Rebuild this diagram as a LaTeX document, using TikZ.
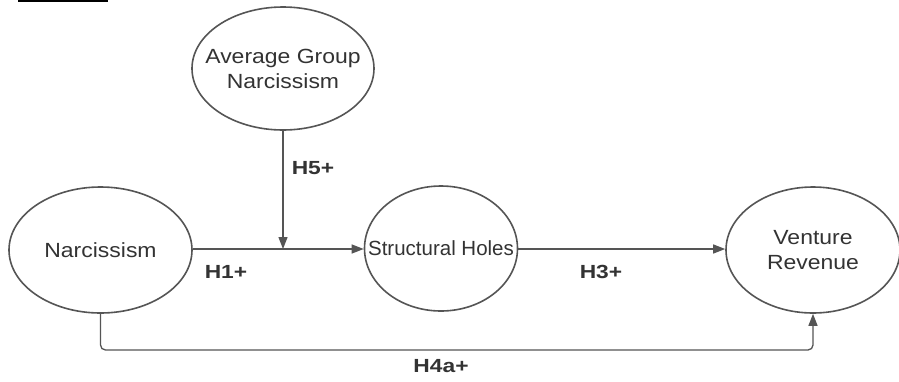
\documentclass[tikz,border=0pt]{standalone}
\usepackage{fontspec}
\setmainfont{Liberation Sans}
\usetikzlibrary{shapes.geometric,arrows.meta}
\definecolor{lc}{HTML}{555555}
\definecolor{tc}{HTML}{333333}
\newcommand\wideA[1]{\scalebox{1.12}[1]{#1}}
\newcommand\wideB[1]{\scalebox{1.2}[1]{#1}}
\tikzset{
  var/.style={ellipse,draw=lc,line width=1.6pt,inner sep=0pt},
  vtext/.style={align=center,text=tc,inner sep=0pt,font=\fontsize{20.5}{25}\selectfont},
  conn/.style={draw=lc,line width=1.3pt},
  arr/.style={conn,-{Triangle[length=12pt,width=9pt]}},
  hlab/.style={text=tc,font=\fontsize{19}{22}\selectfont\bfseries,inner sep=0pt}
}
\begin{document}
\begin{tikzpicture}[x=1pt,y=-1pt]
\useasboundingbox (0,0) rectangle (899,381);
\fill[white] (0,0) rectangle (899,381);
\draw[line width=2pt,black] (18,0.5) -- (108,0.5);
\node[var,minimum width=182pt,minimum height=123pt] (agn) at (283,68.5) {};
\node[var,minimum width=183pt,minimum height=126pt] (narc) at (100.5,250) {};
\node[var,minimum width=153pt,minimum height=125pt] (sh) at (441,248.5) {};
\node[var,minimum width=174pt,minimum height=126pt] (vr) at (813,250) {};
\node[vtext] (agnt) at (agn) {\wideA{Average Group}\\\wideA{Narcissism}};
\node[vtext] (narct) at (narc) {\wideA{Narcissism}};
\node[vtext] (sht) at (sh) {Structural Holes};
\node[vtext] (vrt) at (vr) {\wideA{Venture}\\\wideA{Revenue}};
\coordinate (mod) at (283,249);
\coordinate (c1) at (100.5,350);
\draw[arr] (narc.east |- mod) -- (sh.west |- mod);
\draw[arr] (agn.south) -- (mod);
\draw[arr] (sh.east |- mod) -- (vr.west |- mod);
\draw[arr,rounded corners=5pt] (narc.south) -- (c1) -| (vr.south);
\node[hlab] (h5) at (313,168) {\wideB{H5+}};
\node[hlab] (h1) at (226,272) {\wideB{H1+}};
\node[hlab] (h3) at (601,272) {\wideB{H3+}};
\node[hlab] (h4) at (441,366) {\wideB{H4a+}};
\end{tikzpicture}
\end{document}
